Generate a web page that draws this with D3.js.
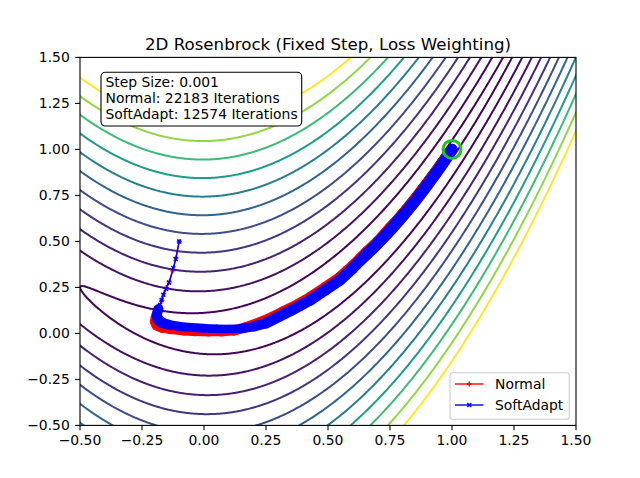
<!DOCTYPE html>
<html><head><meta charset="utf-8">
<script src="https://cdn.jsdelivr.net/npm/d3@7"></script>
<style>
body{margin:0;background:#fff}
svg{display:block}
text{font-family:"DejaVu Sans",sans-serif;fill:#000}
</style>
</head><body>
<svg id="chart" width="640" height="478"></svg>
<script>
// ---------- data ----------
const chartTitle = "2D Rosenbrock (Fixed Step, Loss Weighting)";
const infoLines = ["Step Size: 0.001", "Normal: 22183 Iterations", "SoftAdapt: 12574 Iterations"];
const seriesNames = ["Normal", "SoftAdapt"];
const xTicks = [-0.5, -0.25, 0, 0.25, 0.5, 0.75, 1, 1.25, 1.5];
const yTicks = [-0.5, -0.25, 0, 0.25, 0.5, 0.75, 1, 1.25, 1.5];
const xDomain = [-0.5, 1.5];
const yDomain = [-0.5, 1.5];
const contourLevels = [0.25, 2.25, 6.25, 12.25, 20.25, 30.25, 42.25, 56.25, 72.25, 90.25, 110.25, 132.25];
const targetPoint = [1, 1];

// Normal (red) path: sparse early iterates, then the dense valley part
const normalSparse = [[-0.1,0.5],[-0.113,0.41],[-0.126,0.34],[-0.14,0.28],[-0.152,0.25],[-0.162,0.215],
  [-0.17,0.18],[-0.178,0.15],[-0.186,0.12],[-0.192,0.1]];
const normalDense = [[-0.192,0.1],[-0.196,0.082],[-0.197,0.064],[-0.19,0.045],[-0.17,0.032],[-0.13,0.021],
  [-0.08,0.013],[-0.03,0.009],[0.02,0.007],[0.07,0.008],[0.12,0.015],[0.17,0.034],[0.22,0.057],
  [0.27,0.085],[0.32,0.118],[0.38,0.158],[0.43,0.197],[0.49,0.25],[0.548,0.304],[0.6,0.366],
  [0.656,0.442],[0.7,0.498],[0.75,0.572],[0.8,0.646],[0.85,0.726],[0.9,0.815],[0.95,0.905],[1.0,1.0]];

// SoftAdapt (blue) path
const softSparse = [[-0.1,0.5],[-0.114,0.404],[-0.124,0.355],[-0.141,0.277],[-0.153,0.241],[-0.164,0.21],
  [-0.171,0.182],[-0.177,0.155],[-0.184,0.132]];
const softDense = [[-0.184,0.132],[-0.189,0.11],[-0.19,0.093],[-0.185,0.075],[-0.17,0.058],[-0.14,0.046],
  [-0.1,0.038],[-0.05,0.032],[0.0,0.028],[0.05,0.025],[0.1,0.024],[0.15,0.026],[0.2,0.037],
  [0.25,0.056],[0.306,0.094],[0.35,0.124],[0.387,0.15],[0.427,0.18],[0.49,0.236],[0.548,0.289],
  [0.6,0.355],[0.656,0.432],[0.7,0.49],[0.75,0.565],[0.8,0.64],[0.85,0.72],[0.9,0.81],[0.95,0.9],[1.0,1.0]];

// ---------- layout ----------
const W = 640, H = 478;
const L = 80, R = 576, T = 57.4, B = 425.4;
const xs = d3.scaleLinear().domain(xDomain).range([L, R]);
const ys = d3.scaleLinear().domain(yDomain).range([B, T]);
const svg = d3.select("#chart");
svg.append("rect").attr("width", W).attr("height", H).attr("fill", "#fff");

svg.append("defs").append("clipPath").attr("id", "plotclip")
  .append("rect").attr("x", L).attr("y", T).attr("width", R - L).attr("height", B - T);
const plot = svg.append("g").attr("clip-path", "url(#plotclip)");

// ---------- contours ----------
const rosenbrock = (x, y) => (1 - x) * (1 - x) + 100 * (y - x * x) * (y - x * x);
const g0 = -0.6, step = 0.004, n = Math.round(2.2 / step) + 1;
const grid = new Float64Array(n * n);
for (let j = 0; j < n; j++) for (let i = 0; i < n; i++) grid[i + j * n] = rosenbrock(g0 + i * step, g0 + j * step);
const cset = d3.contours().size([n, n]).thresholds(contourLevels)(grid);
const proj = d3.geoTransform({ point(px, py) { this.stream.point(xs(g0 + (px - 0.5) * step), ys(g0 + (py - 0.5) * step)); } });
const gpath = d3.geoPath(proj);
const lvMin = d3.min(contourLevels), lvMax = d3.max(contourLevels);
plot.append("g").selectAll("path").data(cset).join("path")
  .attr("d", gpath)
  .attr("fill", "none")
  .attr("stroke", d => d3.interpolateViridis((d.value - lvMin) / (lvMax - lvMin)))
  .attr("stroke-width", 2)
  .attr("stroke-linejoin", "round");

// ---------- optimisation paths ----------
const lineGen = d3.line().x(d => xs(d[0])).y(d => ys(d[1]));
function drawBand(pts, color) {
  const g = plot.append("g");
  for (let i = 0; i < pts.length - 1; i++) {
    const x1 = xs(pts[i][0]), y1 = ys(pts[i][1]), x2 = xs(pts[i + 1][0]), y2 = ys(pts[i + 1][1]);
    const th = Math.atan2(y2 - y1, x2 - x1);
    const w = 7 * (Math.abs(Math.cos(th)) + Math.abs(Math.sin(th))) + 1.4;
    g.append("line").attr("x1", x1).attr("y1", y1).attr("x2", x2).attr("y2", y2)
      .attr("stroke", color).attr("stroke-width", w).attr("stroke-linecap", "round");
  }
}
function markerPath(kind, cx, cy, h) {
  if (kind === "x") return `M${cx - h},${cy - h}L${cx + h},${cy + h}M${cx - h},${cy + h}L${cx + h},${cy - h}`;
  return `M${cx - h},${cy}L${cx + h},${cy}M${cx},${cy - h}L${cx},${cy + h}`;
}
function drawSeries(sparse, dense, color, kind) {
  drawBand(dense, color);
  plot.append("path").attr("d", lineGen(sparse.concat(dense))).attr("fill", "none")
    .attr("stroke", color).attr("stroke-width", 1.4).attr("stroke-linejoin", "round");
  plot.append("g").selectAll("path").data(sparse).join("path")
    .attr("d", d => markerPath(kind, xs(d[0]), ys(d[1]), kind === "x" ? 2 : 2.5))
    .attr("stroke", color).attr("stroke-width", 1.4).attr("fill", "none");
}
drawSeries(normalSparse, normalDense, "#ff0000", "+");
drawSeries(softSparse, softDense, "#0000ff", "x");

// target
plot.append("circle").attr("cx", xs(targetPoint[0])).attr("cy", ys(targetPoint[1])).attr("r", 9)
  .attr("fill", "none").attr("stroke", "#1cc41c").attr("stroke-width", 3);

// ---------- axes ----------
const tickLen = 4.86;
const axG = svg.append("g");
xTicks.forEach(t => {
  axG.append("line").attr("x1", xs(t)).attr("x2", xs(t)).attr("y1", B).attr("y2", B + tickLen)
    .attr("stroke", "#000").attr("stroke-width", 1.1);
  axG.append("text").attr("x", xs(t)).attr("y", B + 20).attr("text-anchor", "middle")
    .attr("font-size", "13.9px").text(d3.format(".2f")(t));
});
yTicks.forEach(t => {
  axG.append("line").attr("x1", L - tickLen).attr("x2", L).attr("y1", ys(t)).attr("y2", ys(t))
    .attr("stroke", "#000").attr("stroke-width", 1.1);
  axG.append("text").attr("x", L - 2 * tickLen - 0.5).attr("y", ys(t) + 5).attr("text-anchor", "end")
    .attr("font-size", "13.9px").text(d3.format(".2f")(t));
});
svg.append("rect").attr("x", L).attr("y", T).attr("width", R - L).attr("height", B - T)
  .attr("fill", "none").attr("stroke", "#000").attr("stroke-width", 1.1);

// ---------- title ----------
svg.append("text").attr("x", (L + R) / 2).attr("y", 49.5).attr("text-anchor", "middle")
  .attr("font-size", "16.67px").text(chartTitle);

// ---------- info box ----------
svg.append("rect").attr("x", 101).attr("y", 72.3).attr("width", 200.7).attr("height", 53.7)
  .attr("rx", 4.2).attr("fill", "#fff").attr("stroke", "#000").attr("stroke-width", 1.1);
infoLines.forEach((s, i) => {
  svg.append("text").attr("x", 105.5).attr("y", 87.3 + i * 16).attr("font-size", "13.9px").text(s);
});

// ---------- legend ----------
const lg = svg.append("g");
lg.append("rect").attr("x", 450).attr("y", 372.7).attr("width", 119.3).attr("height", 46.6).attr("rx", 2.8)
  .attr("fill", "#fff").attr("fill-opacity", 0.8).attr("stroke", "#cccccc").attr("stroke-width", 1.1);
const legendStyle = [{ color: "#ff0000", kind: "+" }, { color: "#0000ff", kind: "x" }];
seriesNames.forEach((name, i) => {
  const cy = 384 + i * 21;
  lg.append("line").attr("x1", 455).attr("x2", 483.5).attr("y1", cy).attr("y2", cy)
    .attr("stroke", legendStyle[i].color).attr("stroke-width", 1.4);
  lg.append("path").attr("d", markerPath(legendStyle[i].kind, 469.2, cy, legendStyle[i].kind === "x" ? 2 : 2.5))
    .attr("stroke", legendStyle[i].color).attr("stroke-width", 1.4);
  lg.append("text").attr("x", 495).attr("y", cy + 5).attr("font-size", "13.9px").text(name);
});
</script>
</body></html>
